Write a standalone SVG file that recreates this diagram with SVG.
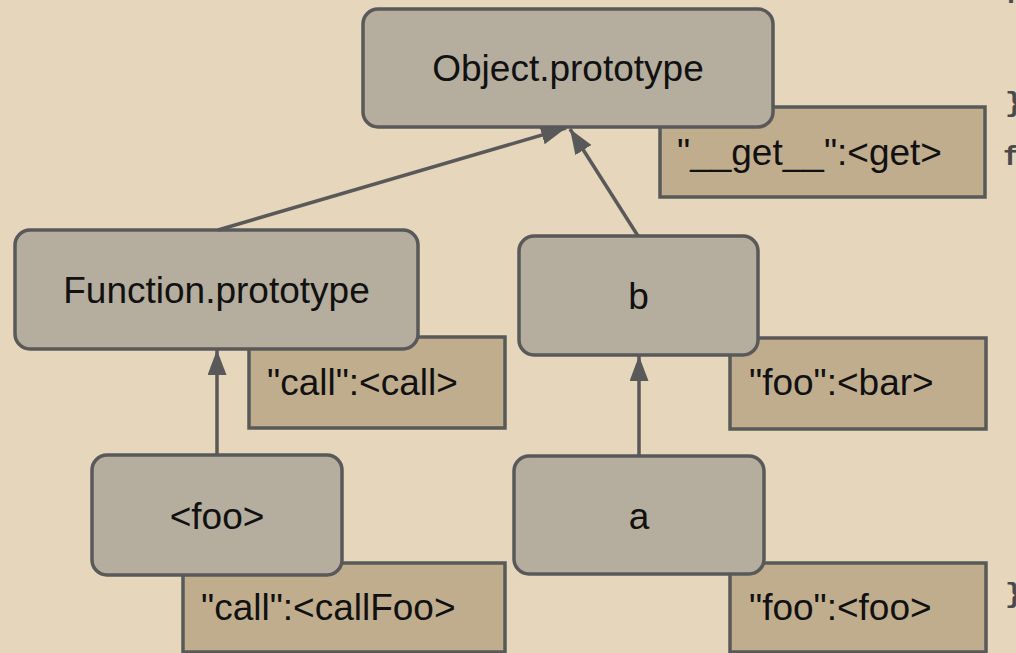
<svg xmlns="http://www.w3.org/2000/svg" width="1016" height="653" viewBox="0 0 1016 653">
  <style>
    .bg { fill: #e6d7bc; }
    .node rect { fill: #b5ad9d; stroke: #595959; stroke-width: 3.5; }
    .slot rect { fill: #c0ad8d; stroke: #595959; stroke-width: 3.5; }
    .node text { font-family: "Liberation Sans", Arial, sans-serif; font-size: 37px; fill: #111; text-anchor: middle; }
    .slot text { font-family: "Liberation Sans", Arial, sans-serif; font-size: 37px; fill: #111; }
    .edge { stroke: #595959; stroke-width: 3.5; fill: none; marker-end: url(#arrow); }
    .code { font-family: "Liberation Mono", "Courier New", monospace; font-weight: bold; font-size: 28px; fill: #4a4a4a; }
  </style>
  <defs>
    <marker id="arrow" markerUnits="userSpaceOnUse" markerWidth="26" markerHeight="20" refX="25" refY="9.5" orient="auto">
      <path d="M0,0 L25,9.5 L0,19 z" fill="#595959"/>
    </marker>
  </defs>

  <rect class="bg" x="0" y="0" width="1016" height="653"/>

  <!-- code text running off the right edge -->
  <g id="code-margin">
    <text class="code" x="1004" y="3">f</text>
    <text class="code" x="1005" y="111">}</text>
    <text class="code" x="1003" y="165">f</text>
    <text class="code" x="1005" y="602">}</text>
  </g>

  <!-- property slots (drawn beneath their objects) -->
  <g id="slot-get" class="slot">
    <rect x="660" y="107" width="325" height="90"/>
    <text x="677" y="165">"__get__":&lt;get&gt;</text>
  </g>
  <g id="slot-call" class="slot">
    <rect x="249" y="337" width="256" height="91"/>
    <text x="267" y="395">"call":&lt;call&gt;</text>
  </g>
  <g id="slot-bar" class="slot">
    <rect x="730" y="338" width="256" height="91"/>
    <text x="749" y="395">"foo":&lt;bar&gt;</text>
  </g>
  <g id="slot-callfoo" class="slot">
    <rect x="183" y="563" width="322" height="89"/>
    <text x="201" y="620">"call":&lt;callFoo&gt;</text>
  </g>
  <g id="slot-foo" class="slot">
    <rect x="730" y="563" width="256" height="89"/>
    <text x="749" y="620">"foo":&lt;foo&gt;</text>
  </g>

  <!-- objects -->
  <g id="object-prototype" class="node">
    <rect x="363" y="9" width="410" height="118" rx="15"/>
    <text x="568" y="81">Object.prototype</text>
  </g>
  <g id="function-prototype" class="node">
    <rect x="15" y="230" width="403" height="119" rx="15"/>
    <text x="216.5" y="302.5">Function.prototype</text>
  </g>
  <g id="b" class="node">
    <rect x="519" y="236" width="239" height="119" rx="15"/>
    <text x="638.5" y="308.5">b</text>
  </g>
  <g id="foo" class="node">
    <rect x="92" y="455" width="250" height="120" rx="15"/>
    <text x="217" y="528.5">&lt;foo&gt;</text>
  </g>
  <g id="a" class="node">
    <rect x="514" y="456" width="250" height="118" rx="15"/>
    <text x="639" y="528.5">a</text>
  </g>

  <!-- prototype links -->
  <g id="connectors">
    <line class="edge" x1="218" y1="230" x2="566" y2="128"/>
    <line class="edge" x1="638" y1="236" x2="570" y2="129"/>
    <line class="edge" x1="217" y1="455" x2="217" y2="350"/>
    <line class="edge" x1="639" y1="456" x2="639" y2="356"/>
  </g>
</svg>
